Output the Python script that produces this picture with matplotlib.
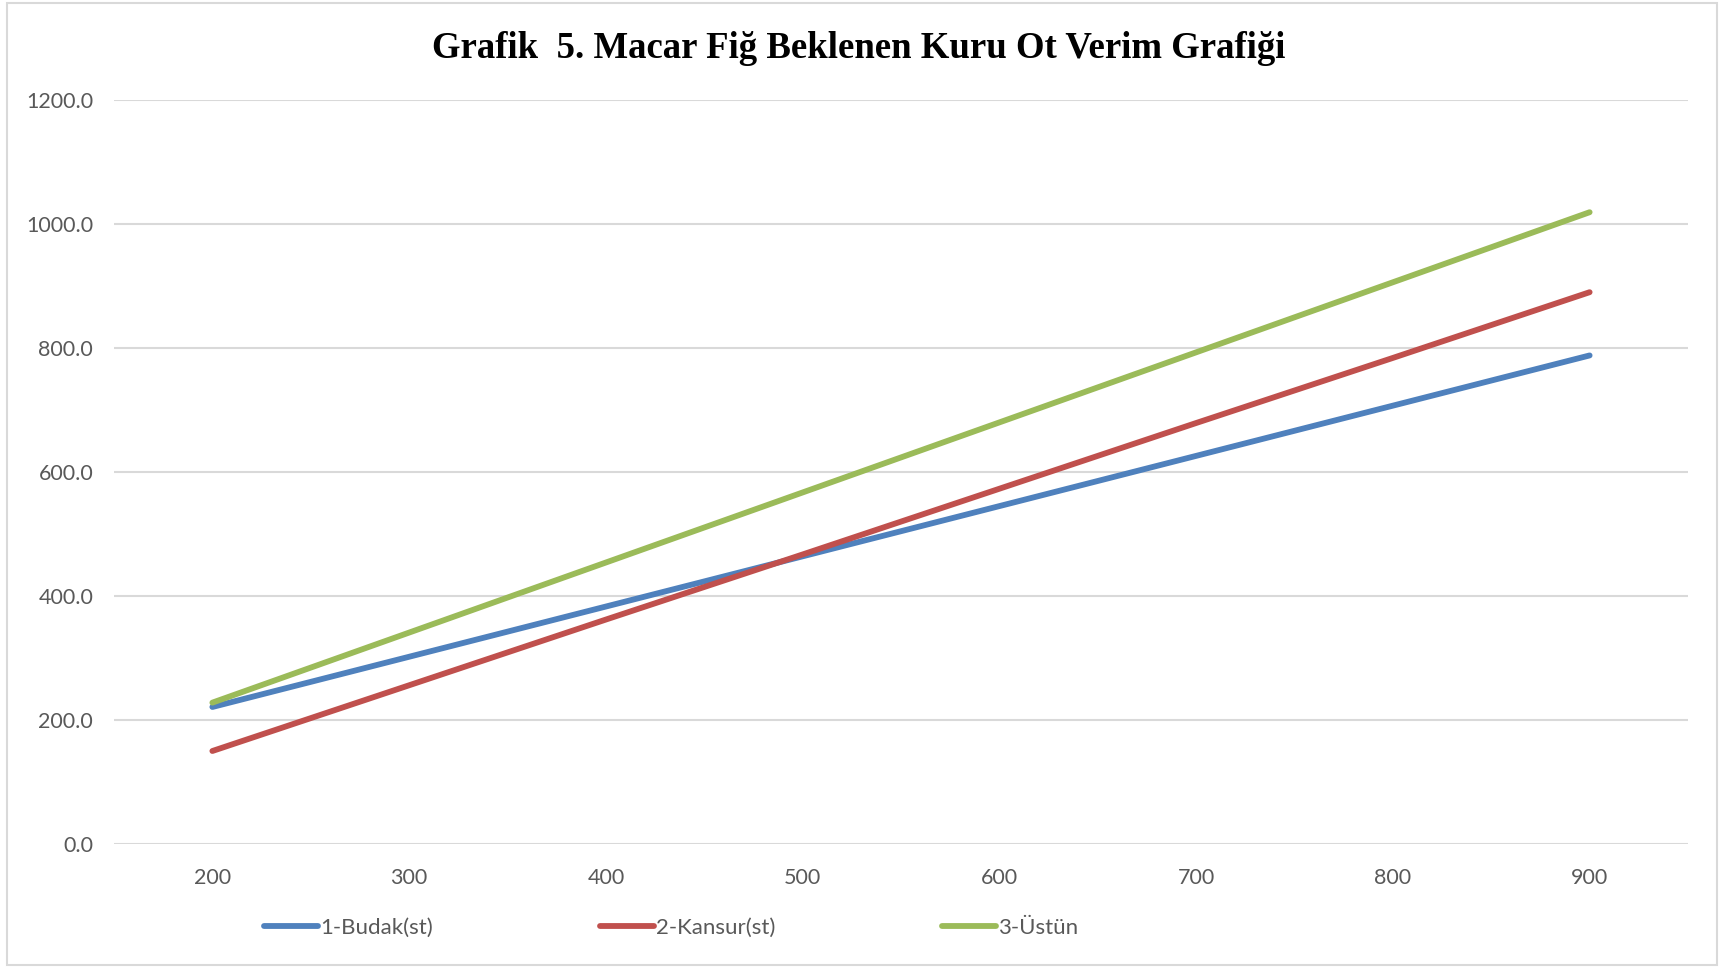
import matplotlib
matplotlib.use("Agg")
import matplotlib.pyplot as plt
from matplotlib.patches import Rectangle

categories = ["200", "300", "400", "500", "600", "700", "800", "900"]
budak = [221, 302, 383, 464, 545, 626, 707, 788]
kansur = [150, 256, 362, 467, 573, 679, 784, 890]
ustun = [228, 341, 454, 567, 680, 793, 906, 1019]
series_names = ["1-Budak(st)", "2-Kansur(st)", "3-Üstün"]
colors = ["#4F81BD", "#C0504D", "#9BBB59"]
yticks = [0, 200, 400, 600, 800, 1000, 1200]

W, H, DPI = 1719, 968, 100
fig = plt.figure(figsize=(W / DPI, H / DPI), dpi=DPI)
ax = fig.add_axes([114 / W, 1 - 844 / H, (1688 - 114) / W, (844 - 100) / H])

x = list(range(len(categories)))
for vals, name, c in zip([budak, kansur, ustun], series_names, colors):
    ax.plot(x, vals, color=c, lw=4.2, solid_capstyle="round", label=name, zorder=3)

ax.set_xlim(-0.5, len(categories) - 0.5)
ax.set_ylim(0, 1200)
ax.set_xticks(x)
ax.set_xticklabels(categories)
ax.set_yticks(yticks)
ax.set_yticklabels([f"{v:.1f}" for v in yticks])
ax.tick_params(length=0, labelsize=15.5, labelcolor="#595959")
ax.tick_params(axis="y", pad=15)
ax.tick_params(axis="x", pad=17)
for lab in ax.get_xticklabels() + ax.get_yticklabels():
    lab.set_family(["Lato", "DejaVu Sans"])
for s in ax.spines.values():
    s.set_visible(False)
ax.grid(axis="y", color="#D9D9D9", lw=1.5)
ax.set_axisbelow(True)

fig.text(0.4995, 1 - 48 / H, "Grafik  5. Macar Fiğ Beklenen Kuru Ot Verim Grafiği",
         ha="center", va="center", fontsize=26.5, fontweight="bold",
         family=["Liberation Serif", "DejaVu Serif"])

leg = fig.legend(loc="center left", bbox_to_anchor=(264 / W, 1 - 928 / H), ncol=3,
                 frameon=False, handlelength=2.45, handletextpad=0.08,
                 columnspacing=7.5, prop={"family": ["Lato", "DejaVu Sans"], "size": 16},
                 borderaxespad=0, borderpad=0)
for t in leg.get_texts():
    t.set_color("#595959")

fig.patches.append(Rectangle((7 / W, 3 / H), (1717 - 7) / W, (965 - 3) / H,
                             transform=fig.transFigure, fill=False,
                             edgecolor="#D9D9D9", lw=1.5))

fig.savefig("out.png", dpi=DPI)
